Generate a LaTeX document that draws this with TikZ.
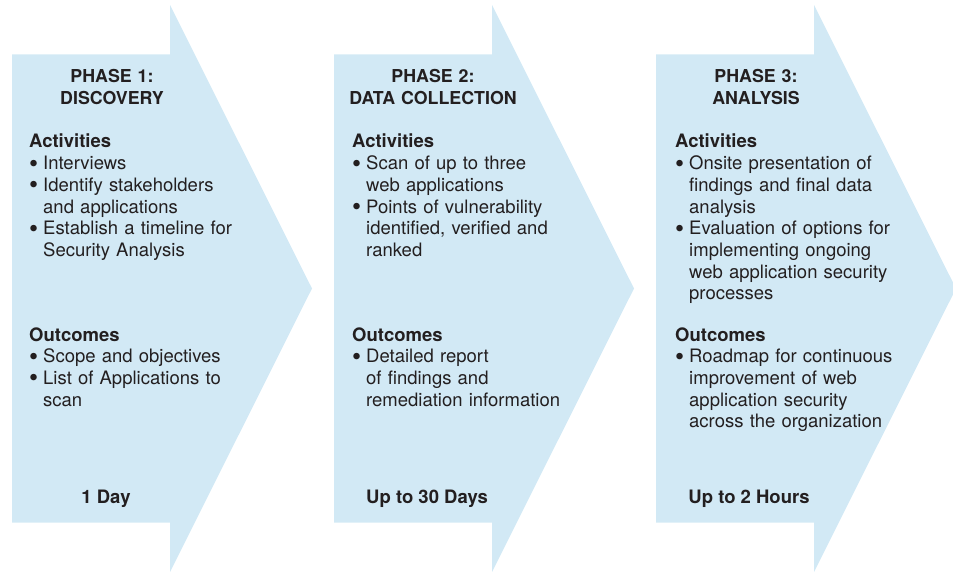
\documentclass[tikz,border=0pt]{standalone}
\usepackage{graphicx}
\usepackage{fontspec}
\setmainfont{TeX Gyre Heros}
\definecolor{phaseblue}{RGB}{210,233,245}
\definecolor{phasetext}{RGB}{35,31,32}
\newcommand{\pbul}{\makebox[14pt][l]{\raisebox{-2.5pt}{\scalebox{1.4}{\textbullet}}}}
\newcommand{\pind}{\hspace*{14pt}}

\begin{document}
\begin{tikzpicture}[x=1pt,y=-1pt,
  phasetitle/.style={anchor=base,text width=200pt,align=center,inner sep=0pt,
    font=\fontsize{17.8}{22}\selectfont\bfseries,text=phasetext},
  phasebody/.style={anchor=base west,text width=260pt,align=left,inner sep=0pt,
    font=\fontsize{18.5}{21.7}\selectfont,text=phasetext},
  phasetime/.style={anchor=base,inner sep=0pt,
    font=\fontsize{18.5}{21.7}\selectfont\bfseries,text=phasetext}]
\useasboundingbox (0,0) rectangle (953,572);

\fill[phaseblue] (12,54.5) -- (170,54.5) -- (170,5) -- (312,288.5) -- (170,572) -- (170,522.5) -- (12,522.5) -- cycle;
\fill[phaseblue] (334,54.5) -- (492,54.5) -- (492,5) -- (634,288.5) -- (492,572) -- (492,522.5) -- (334,522.5) -- cycle;
\fill[phaseblue] (656,54.5) -- (814,54.5) -- (814,5) -- (956,288.5) -- (814,572) -- (814,522.5) -- (656,522.5) -- cycle;

\node[phasetitle] (title1) at (112,83) {PHASE 1:\\DISCOVERY};
\node[phasetitle] (title2) at (433,83) {PHASE 2:\\DATA COLLECTION};
\node[phasetitle] (title3) at (756,83) {PHASE 3:\\ANALYSIS};

\node[phasebody] (act1) at (29,148) {\textbf{Activities}\\
  \pbul Interviews\\
  \pbul Identify stakeholders\\
  \pind and applications\\
  \pbul Establish a timeline for\\
  \pind Security Analysis};
\node[phasebody] (act2) at (352,148) {\textbf{Activities}\\
  \pbul Scan of up to three\\
  \pind web applications\\
  \pbul Points of vulnerability\\
  \pind identified, verified and\\
  \pind ranked};
\node[phasebody] (act3) at (675,148) {\textbf{Activities}\\
  \pbul Onsite presentation of\\
  \pind findings and final data\\
  \pind analysis\\
  \pbul Evaluation of options for\\
  \pind implementing ongoing\\
  \pind web application security\\
  \pind processes};

\node[phasebody] (out1) at (29,341) {\textbf{Outcomes}\\
  \pbul Scope and objectives\\
  \pbul List of Applications to\\
  \pind scan};
\node[phasebody] (out2) at (352,341) {\textbf{Outcomes}\\
  \pbul Detailed report\\
  \pind of findings and\\
  \pind remediation information};
\node[phasebody] (out3) at (675,341) {\textbf{Outcomes}\\
  \pbul Roadmap for continuous\\
  \pind improvement of web\\
  \pind application security\\
  \pind across the organization};

\node[phasetime] (time1) at (106,503) {1 Day};
\node[phasetime] (time2) at (427,503) {Up to 30 Days};
\node[phasetime] (time3) at (749,503) {Up to 2 Hours};
\end{tikzpicture}
\end{document}
